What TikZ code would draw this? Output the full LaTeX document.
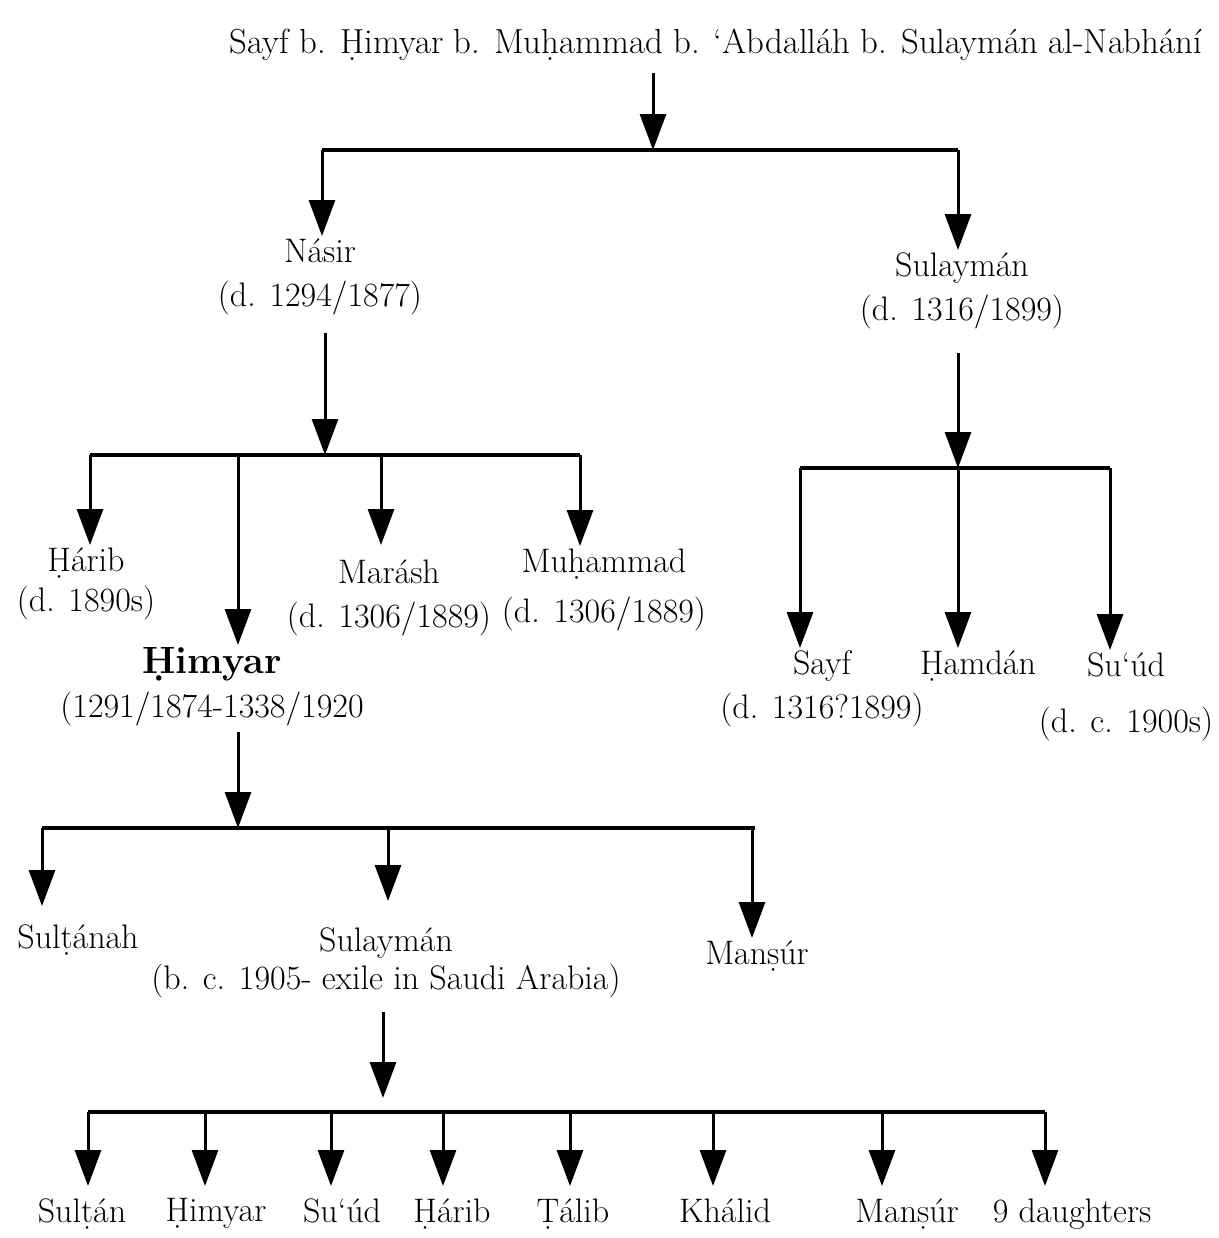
\documentclass[tikz,border=0pt]{standalone}
\usetikzlibrary{arrows.meta}

\tikzset{
  kin/.style={line width=1.5pt, -{Triangle[width=13pt,length=18pt]}},
  bar/.style={line width=2pt},
  person/.style={align=center, inner sep=1pt, anchor=north, font=\fontsize{17}{22}\selectfont},
}

\begin{document}
\begin{tikzpicture}[x=0.5pt,y=-0.5pt]
\useasboundingbox (0,0) rectangle (1219,1238);

\node[person, anchor=center, font=\fontsize{17.4}{22}\selectfont] (sayf) at (716,45) {Sayf b. Ḥimyar b. Muḥammad b. ‘Abdalláh b. Sulaymán al-Nabhání};

% first generation
\coordinate (T1) at (653,150);
\coordinate (A1) at (322,150);
\coordinate (B1) at (958,150);
\draw[bar] (A1) -- (B1);
\draw[kin, shorten <=5pt] (sayf.south -| T1) -- (T1);

\node[person] (nasir) at (320,236) {Násir\\(d. 1294/1877)};
\node[person] (sulA) at (962,250) {Sulaymán\\(d. 1316/1899)};
\draw[kin] (A1) -- (A1 |- nasir.north);
\draw[kin] (B1) -- (B1 |- sulA.north);

% sons of Nasir
\coordinate (T2) at (325,455);
\coordinate (A2) at (90,455);
\coordinate (B2) at (238,455);
\coordinate (C2) at (381,455);
\coordinate (D2) at (580,455);
\draw[bar] (A2) -- (D2);
\draw[kin, shorten <=8pt] (nasir.south -| T2) -- (T2);

\node[person] (harib) at (86,545) {Ḥárib\\[-2pt](d. 1890s)};
\node[person] (marash) at (389,557) {Marásh\\(d. 1306/1889)};
\node[person] (muhammad) at (604,546) {Muḥammad\\[3pt](d. 1306/1889)};
\node[person] (himyar) at (212,645) {{\fontsize{19}{22}\selectfont\bfseries Ḥimyar}\\(1291/1874-1338/1920};
\draw[kin] (A2) -- (A2 |- harib.north);
\draw[kin] (B2) -- (B2 |- himyar.north);
\draw[kin, shorten >=6pt] (C2) -- (C2 |- marash.north);
\draw[kin] (D2) -- (D2 |- muhammad.north);

% sons of Sulayman
\coordinate (T3) at (958,468);
\coordinate (A3) at (800,468);
\coordinate (B3) at (958,468);
\coordinate (C3) at (1110,468);
\draw[bar] (A3) -- (C3);
\draw[kin, shorten <=11pt] (sulA.south -| T3) -- (T3);

\node[person] (sayfB) at (822,648) {Sayf\\(d. 1316?1899)};
\node[person] (hamdan) at (978,648) {Ḥamdán};
\node[person] (suudA) at (1126,650) {Su‘úd\\[6pt](d. c. 1900s)};
\draw[kin] (A3) -- (A3 |- sayfB.north);
\draw[kin] (B3) -- (B3 |- hamdan.north);
\draw[kin] (C3) -- (C3 |- suudA.north);

% sons of Himyar
\coordinate (T4) at (238,828);
\coordinate (A4) at (42,828);
\coordinate (B4) at (388,828);
\coordinate (C4) at (752,828);
\draw[bar] (A4) -- (755,828);
\draw[kin, shorten <=2pt] (himyar.south -| T4) -- (T4);

\node[person] (sultanah) at (78,922) {Sulṭánah};
\node[person] (sulB) at (386,925) {Sulaymán\\[-3pt](b. c. 1905- exile in Saudi Arabia)};
\node[person] (mansurA) at (757,938) {Manṣúr};
\draw[kin, shorten >=8pt] (A4) -- (A4 |- sultanah.north);
\draw[kin, shorten >=12pt] (B4) -- (B4 |- sulB.north);
\draw[kin] (C4) -- (C4 |- mansurA.north);

% children of Sulayman
\coordinate (T5) at (383,1112);
\coordinate (A5) at (88,1112);
\coordinate (B5) at (205,1112);
\coordinate (C5) at (331,1112);
\coordinate (D5) at (443,1112);
\coordinate (E5) at (570,1112);
\coordinate (F5) at (713,1112);
\coordinate (G5) at (882,1112);
\coordinate (H5) at (1045,1112);
\draw[bar] (A5) -- (H5);
\draw[kin, shorten <=6pt, shorten >=7pt] (sulB.south -| T5) -- (T5);

\node[person] (sultan) at (82,1196) {Sulṭán};
\node[person] (himyarB) at (216,1196) {Ḥimyar};
\node[person] (suudB) at (342,1196) {Su‘úd};
\node[person] (haribB) at (452,1196) {Ḥárib};
\node[person] (talib) at (573,1196) {Ṭálib};
\node[person] (khalid) at (725,1196) {Khálid};
\node[person] (mansurB) at (907,1196) {Manṣúr};
\node[person] (daughters) at (1072,1196) {9 daughters};
\draw[kin, shorten >=5pt] (A5) -- (A5 |- sultan.north);
\draw[kin, shorten >=5pt] (B5) -- (B5 |- himyarB.north);
\draw[kin, shorten >=5pt] (C5) -- (C5 |- suudB.north);
\draw[kin, shorten >=5pt] (D5) -- (D5 |- haribB.north);
\draw[kin, shorten >=5pt] (E5) -- (E5 |- talib.north);
\draw[kin, shorten >=5pt] (F5) -- (F5 |- khalid.north);
\draw[kin, shorten >=5pt] (G5) -- (G5 |- mansurB.north);
\draw[kin, shorten >=5pt] (H5) -- (H5 |- daughters.north);

\end{tikzpicture}
\end{document}
